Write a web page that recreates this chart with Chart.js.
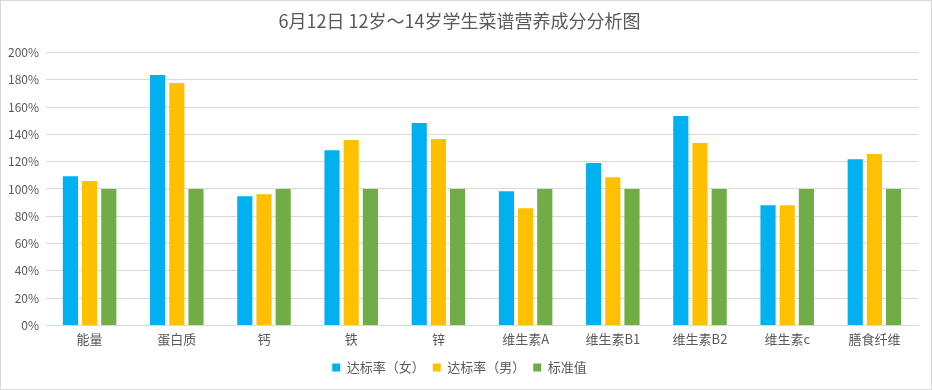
<!DOCTYPE html>
<html>
<head>
<meta charset="utf-8">
<script src="https://cdn.jsdelivr.net/npm/chart.js@4"></script>
<style>
  html, body { margin: 0; padding: 0; background: #fff; }
  .wrap { width: 930px; height: 388px; border: 1px solid #d9d9d9; position: relative; }
</style>
</head>
<body>
<div class="wrap"><canvas id="myChart" width="930" height="388"></canvas></div>
<script>
// data
var categories = ['能量', '蛋白质', '钙', '铁', '锌', '维生素A', '维生素B1', '维生素B2', '维生素c', '膳食纤维'];
var girls = [109.4, 183.6, 94.7, 128.5, 148.4, 98.4, 119, 153.5, 88.1, 121.9];
var boys = [105.8, 177.7, 96.2, 135.9, 136.6, 85.9, 108.7, 133.7, 88.1, 125.6];
var standard = [100, 100, 100, 100, 100, 100, 100, 100, 100, 100];
var seriesNames = ['达标率（女）', '达标率（男）', '标准值'];

var font = '"Noto Sans CJK SC", "Microsoft YaHei", sans-serif';
Chart.defaults.font.family = font;
Chart.defaults.color = '#595959';

function ds(label, data, color) {
  return {
    label: label,
    data: data,
    backgroundColor: color,
    borderWidth: 0,
    categoryPercentage: 0.66,
    barPercentage: 0.79
  };
}

var ctx = document.getElementById('myChart');
var myChart = new Chart(ctx, {
  type: 'bar',
  data: {
    labels: categories,
    datasets: [
      ds(seriesNames[0], girls, '#00B0F0'),
      ds(seriesNames[1], boys, '#FFC000'),
      ds(seriesNames[2], standard, '#70AD47')
    ]
  },
  options: {
    responsive: false,
    animation: false,
    layout: { padding: { left: 0, right: 13, top: 9, bottom: 5 } },
    plugins: {
      title: {
        display: true,
        text: '6月12日 12岁～14岁学生菜谱营养成分分析图',
        color: '#595959',
        font: { size: 18, weight: 'normal' },
        padding: { top: 0, bottom: 21 }
      },
      legend: {
        position: 'bottom',
        labels: {
          usePointStyle: true,
          pointStyle: 'rect',
          boxWidth: 8,
          boxHeight: 8,
          padding: 8,
          color: '#595959',
          font: { size: 13 }
        }
      },
      tooltip: { enabled: false }
    },
    scales: {
      x: {
        grid: { display: false, drawTicks: false },
        border: { color: '#d9d9d9' },
        ticks: { color: '#595959', font: { size: 13 }, padding: 6 }
      },
      y: {
        min: 0,
        max: 200,
        afterFit: function(scale) { scale.width = 45; },
        grid: { color: '#d9d9d9', drawTicks: false },
        border: { display: false },
        ticks: {
          stepSize: 20,
          padding: 7,
          color: '#595959',
          font: { size: 12 },
          callback: function(v) { return v + '%'; }
        }
      }
    }
  }
});
</script>
</body>
</html>
